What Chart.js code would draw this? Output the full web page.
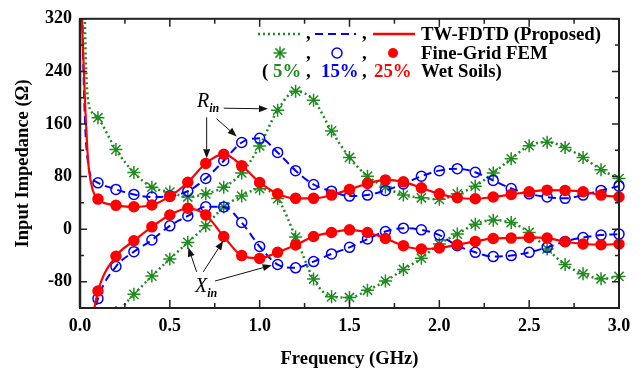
<!DOCTYPE html>
<html>
<head>
<meta charset="utf-8">
<script src="https://cdn.jsdelivr.net/npm/chart.js@4.4.1/dist/chart.umd.min.js"></script>
<style>
  html, body { margin: 0; padding: 0; background: #fff; }
  #wrap { width: 644px; height: 371px; }
</style>
</head>
<body>
<div id="wrap"><canvas id="chart" width="644" height="371"></canvas></div>
<script>
// FEM sample frequencies (GHz)
const freqGHz = [0.1, 0.2, 0.3, 0.4, 0.5, 0.6, 0.7, 0.8, 0.9, 1.0,
                 1.1, 1.2, 1.3, 1.4, 1.5, 1.6, 1.7, 1.8, 1.9, 2.0,
                 2.1, 2.2, 2.3, 2.4, 2.5, 2.6, 2.7, 2.8, 2.9, 3.0];

// 25% wet soil
const rin25 = [45.7, 36.2, 34, 36.7, 49.8, 71.4, 100, 114, 96.6, 71,
               53.8, 46.8, 46.8, 51.8, 60.4, 69.4, 74.9, 71.9, 62.8, 53.7,
               47.7, 46.2, 48.8, 52.8, 56.8, 59.3, 58.9, 56.8, 51.8, 48.8];
const xin25 = [-94.2, -41.3, -17.7, 3.5, 21.5, 31.7, 21.5, -11.2, -40.3, -44.5,
               -35.3, -24.2, -11.2, -5.1, -1.1, -5.1, -14.2, -25.2, -30.2, -28.7,
               -23.7, -18.7, -14.2, -13.6, -12.7, -13.6, -19.2, -22.6, -23.7, -22.6];
// 15% wet soil
const rin15 = [70.4, 60.4, 52.8, 48.8, 50.3, 57.8, 77, 104, 131.8, 138.3,
               116.7, 89, 67.9, 57.8, 50.3, 51.8, 58.9, 68.8, 80.5, 89,
               92, 86.5, 74, 61.9, 53.7, 48.8, 46.8, 51.8, 58.9, 65.4];
const xin15 = [-105.7, -56.9, -34.3, -16.6, 5, 20, 34, 33.7, 10, -26.5,
               -53.9, -58.9, -49.4, -37.7, -27.7, -15.1, -3.6, 1.5, -1.1, -9.1,
               -25.2, -35.3, -41.8, -40.3, -35.3, -27.7, -18.7, -12.7, -9.1, -7.6];
// 5% wet soil
const rin5 = [169.5, 121, 86, 63.8, 56.3, 48.8, 53.7, 63.8, 85.4, 126.5,
              181, 209.8, 196.2, 149.4, 109, 80.5, 64, 51.8, 47.7, 45.3,
              53.7, 65.4, 85.4, 107, 127, 132.3, 124.2, 109, 90.5, 77];
const xin5 = [-135, -127, -99.2, -71.5, -45.3, -20.2, 5, 33.7, 50.3, 61.5,
              46.5, -12, -76, -103, -104, -93, -79, -61.4, -44.3, -22.6,
              -7.6, 7.5, 13.6, 10, -5.1, -30.2, -53.9, -68, -75.5, -72];

// low-frequency parts of the TW-FDTD curves
const tailF25R = [0.01, 0.015, 0.02, 0.03, 0.04, 0.05, 0.07];
const tailR25 = [330, 290, 250, 180, 125, 90, 60];
const tailF15R = [0.013, 0.018, 0.03, 0.045, 0.056, 0.075];
const tailR15 = [330, 255, 150, 100, 84, 75];
const tailF5R = [0.026, 0.032, 0.04, 0.05, 0.065];
const tailR5 = [330, 260, 210, 188, 178];
const tailF25X = [0.07];
const tailX25 = [-135];
const tailF15X = [0.075];
const tailX15 = [-135];

const xTickValues = [0, 0.5, 1.0, 1.5, 2.0, 2.5, 3.0];
const xMinorTicks = [0.25, 0.75, 1.25, 1.75, 2.25, 2.75];
const yTickValues = [-80, 0, 80, 160, 240, 320];
const yMinorTicks = [-40, 40, 120, 200, 280];

const GREEN = '#1e8c1e';
const BLUE = '#0000ff';
const RED = '#ff0000';
const FONT = '"Liberation Serif", "Times New Roman", serif';

function pairs(fx, vy) {
    return fx.map((f, i) => ({x: f, y: vy[i]}));
}

function lineSet(fx, vy, color, dash, width) {
    return {
        data: pairs(fx, vy),
        borderColor: color,
        borderWidth: width,
        borderDash: dash,
        pointRadius: 0,
        cubicInterpolationMode: 'monotone',
        fill: false,
        clip: 0
    };
}

function markerSet(vy, color, style, radius, filled) {
    return {
        data: pairs(freqGHz, vy),
        showLine: false,
        pointStyle: style,
        pointRadius: radius,
        pointBorderColor: color,
        pointBackgroundColor: filled ? color : 'rgba(0,0,0,0)',
        pointBorderWidth: 1.5,
        clip: {left: 8, top: 0, right: 8, bottom: 0}
    };
}

// inward ticks on all four sides plus the frame
const frameTicks = {
    id: 'frameTicks',
    afterDraw(chart) {
        const {ctx, chartArea: a, scales: {x, y}} = chart;
        ctx.save();
        ctx.strokeStyle = '#222';
        ctx.lineWidth = 1.5;
        ctx.beginPath();
        const tick = (list, len) => {
            list.forEach(v => {
                const px = x.getPixelForValue(v);
                ctx.moveTo(px, a.bottom); ctx.lineTo(px, a.bottom - len);
                ctx.moveTo(px, a.top); ctx.lineTo(px, a.top + len);
            });
        };
        const ytick = (list, len) => {
            list.forEach(v => {
                const py = y.getPixelForValue(v);
                ctx.moveTo(a.left, py); ctx.lineTo(a.left + len, py);
                ctx.moveTo(a.right, py); ctx.lineTo(a.right - len, py);
            });
        };
        tick(xTickValues, 8);
        tick(xMinorTicks, 5);
        ytick(yTickValues, 7);
        ytick(yMinorTicks, 4);
        ctx.stroke();
        ctx.lineWidth = 2;
        ctx.strokeRect(a.left, a.top, a.right - a.left, a.bottom - a.top);
        ctx.lineWidth = 2.5;
        ctx.beginPath();
        ctx.moveTo(a.left, a.top); ctx.lineTo(a.left, a.bottom);
        ctx.stroke();
        ctx.restore();
    }
};

// R_in / X_in labels with arrows, anchored in data units
const rinLabel = {x: 0.651, y: 186};
const rinArrows = [[0.705, 170, 0.705, 108], [0.76, 168, 0.872, 141], [0.80, 184, 1.046, 183]];
const xinLabel = {x: 0.64, y: -96};
const xinArrows = [[0.649, -65, 0.603, -28], [0.686, -65, 0.797, -18], [0.751, -79, 1.067, -55]];

function arrow(ctx, x0, y0, x1, y1) {
    const ang = Math.atan2(y1 - y0, x1 - x0);
    const hl = 9, hw = 3.5;
    const bx = x1 - hl * Math.cos(ang), by = y1 - hl * Math.sin(ang);
    ctx.beginPath();
    ctx.moveTo(x0, y0); ctx.lineTo(bx, by);
    ctx.stroke();
    ctx.beginPath();
    ctx.moveTo(x1, y1);
    ctx.lineTo(bx + hw * Math.sin(ang), by - hw * Math.cos(ang));
    ctx.lineTo(bx - hw * Math.sin(ang), by + hw * Math.cos(ang));
    ctx.closePath();
    ctx.fill();
}

const labels = {
    id: 'labels',
    afterDraw(chart) {
        const {ctx, scales: {x, y}} = chart;
        ctx.save();
        ctx.strokeStyle = '#111';
        ctx.fillStyle = '#111';
        ctx.lineWidth = 1;
        rinArrows.concat(xinArrows).forEach(a => {
            arrow(ctx, x.getPixelForValue(a[0]), y.getPixelForValue(a[1]),
                  x.getPixelForValue(a[2]), y.getPixelForValue(a[3]));
        });
        ctx.fillStyle = '#000';
        ctx.textBaseline = 'alphabetic';
        [[rinLabel, 'R'], [xinLabel, 'X']].forEach(([p, t]) => {
            const px = x.getPixelForValue(p.x), py = y.getPixelForValue(p.y);
            ctx.font = 'italic 20px ' + FONT;
            ctx.fillText(t, px, py);
            const w = ctx.measureText(t).width;
            ctx.font = 'italic bold 12px ' + FONT;
            ctx.fillText('in', px + w, py + 5);
        });
        ctx.restore();
    }
};

// legend in the top right corner
const legendLine = 'TW-FDTD (Proposed)';
const legendMarker = 'Fine-Grid FEM';
const soilNames = ['5%', '15%', '25%'];
const legendTail = 'Wet Soils)';

function drawStar(ctx, cx, cy, r) {
    ctx.beginPath();
    for (let k = 0; k < 4; k++) {
        const a = k * Math.PI / 4;
        ctx.moveTo(cx - r * Math.cos(a), cy - r * Math.sin(a));
        ctx.lineTo(cx + r * Math.cos(a), cy + r * Math.sin(a));
    }
    ctx.stroke();
}

const legendBox = {
    id: 'legendBox',
    afterDraw(chart) {
        const ctx = chart.ctx;
        ctx.save();
        ctx.font = 'bold 18.8px ' + FONT;
        ctx.textBaseline = 'alphabetic';
        // row 1: line styles
        const seg = (x0, x1, yy, color, dash, w) => {
            ctx.strokeStyle = color; ctx.lineWidth = w; ctx.setLineDash(dash);
            ctx.beginPath(); ctx.moveTo(x0, yy); ctx.lineTo(x1, yy); ctx.stroke();
            ctx.setLineDash([]);
        };
        seg(258, 303, 34, GREEN, [2, 3], 2.5);
        seg(315, 356, 34, BLUE, [8, 5], 2);
        seg(373, 415, 34, RED, [], 2.5);
        ctx.fillStyle = '#000';
        ctx.fillText(',', 306, 39);
        ctx.fillText(',', 362, 39);
        ctx.fillText(legendLine, 421, 40);
        // row 2: markers
        ctx.strokeStyle = GREEN; ctx.lineWidth = 1.5;
        drawStar(ctx, 280, 53, 6.5);
        ctx.strokeStyle = BLUE;
        ctx.beginPath(); ctx.arc(337, 53, 5, 0, Math.PI * 2); ctx.stroke();
        ctx.fillStyle = RED;
        ctx.beginPath(); ctx.arc(393, 53, 5, 0, Math.PI * 2); ctx.fill();
        ctx.fillStyle = '#000';
        ctx.fillText(',', 306, 59);
        ctx.fillText(',', 362, 59);
        ctx.fillText(legendMarker, 421, 59);
        // row 3: soil moisture
        ctx.fillText('(', 262, 77);
        ctx.fillText(',', 306, 77);
        ctx.fillText(',', 362, 77);
        ctx.fillStyle = GREEN; ctx.fillText(soilNames[0], 273, 77);
        ctx.fillStyle = BLUE; ctx.fillText(soilNames[1], 321, 77);
        ctx.fillStyle = RED; ctx.fillText(soilNames[2], 374, 77);
        ctx.fillStyle = '#000';
        ctx.fillText(legendTail, 421, 77);
        ctx.restore();
    }
};

const tickFont = {family: FONT, size: 18, weight: 'bold'};

new Chart(document.getElementById('chart'), {
    type: 'line',
    data: {
        datasets: [
            markerSet(rin25, RED, 'circle', 5, true),
            markerSet(xin25, RED, 'circle', 5, true),
            lineSet(tailF25R.concat(freqGHz), tailR25.concat(rin25), RED, [], 2.2),
            lineSet(tailF25X.concat(freqGHz), tailX25.concat(xin25), RED, [], 2.2),
            markerSet(rin15, BLUE, 'circle', 5, false),
            markerSet(xin15, BLUE, 'circle', 5, false),
            lineSet(tailF15R.concat(freqGHz), tailR15.concat(rin15), BLUE, [8, 5], 2),
            lineSet(tailF15X.concat(freqGHz), tailX15.concat(xin15), BLUE, [8, 5], 2),
            markerSet(rin5, GREEN, 'star', 6.5, false),
            markerSet(xin5, GREEN, 'star', 6.5, false),
            lineSet(tailF5R.concat(freqGHz), tailR5.concat(rin5), GREEN, [2, 3], 2.5),
            lineSet(freqGHz, xin5, GREEN, [2, 3], 2.5)
        ]
    },
    options: {
        responsive: false,
        animation: false,
        layout: {padding: {top: 16, right: 25, left: 0, bottom: 0}},
        plugins: {legend: {display: false}, tooltip: {enabled: false}},
        scales: {
            x: {
                type: 'linear', min: 0, max: 3,
                grid: {display: false, drawTicks: false},
                border: {display: false},
                afterBuildTicks: s => { s.ticks = xTickValues.map(v => ({value: v})); },
                afterFit: s => { s.height = 63; },
                ticks: {font: tickFont, color: '#000', padding: 8, maxRotation: 0,
                        callback: v => Number(v).toFixed(1)},
                title: {display: true, text: 'Frequency (GHz)', color: '#000',
                        font: {family: FONT, size: 18.5, weight: 'bold'}, padding: {top: 0, bottom: 1}}
            },
            y: {
                type: 'linear', min: -120, max: 320,
                grid: {display: false, drawTicks: false},
                border: {display: false},
                afterBuildTicks: s => { s.ticks = yTickValues.map(v => ({value: v})); },
                afterFit: s => { s.width = 80; },
                ticks: {font: tickFont, color: '#000', padding: 8,
                        callback: v => String(v)},
                title: {display: true, text: 'Input Impedance (\u03A9)', color: '#000',
                        font: {family: FONT, size: 18.5, weight: 'bold'}, padding: {top: 12, bottom: 0}}
            }
        }
    },
    plugins: [frameTicks, labels, legendBox]
});
</script>
</body>
</html>
